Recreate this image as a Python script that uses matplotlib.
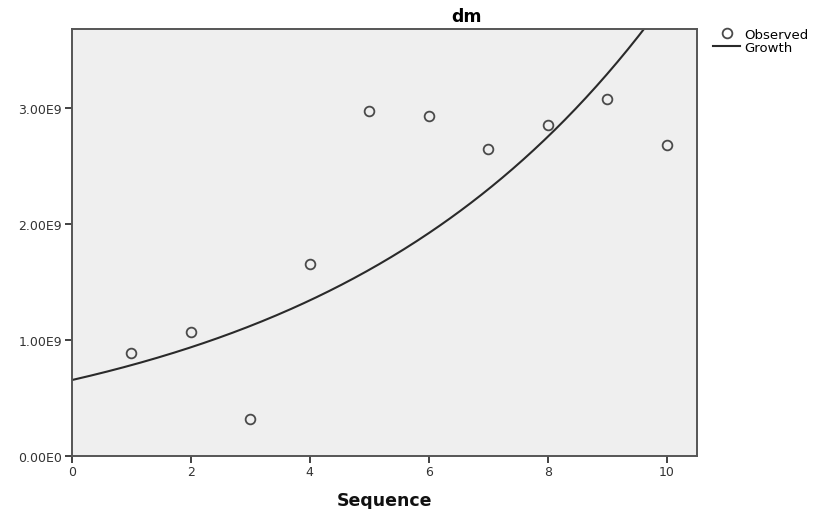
import numpy as np
import matplotlib.pyplot as plt

seq = [1, 2, 3, 4, 5, 6, 7, 8, 9, 10]
dm = [0.886e9, 1.065e9, 0.317e9, 1.654e9, 2.974e9, 2.931e9, 2.649e9, 2.856e9, 3.072e9, 2.681e9]

# growth model y = exp(b0 + b1 * x), coefficients estimated from the curve
growth_start = 0.652e9
growth_rate = 0.1800

yticks = [0, 1e9, 2e9, 3e9]
ytick_labels = ['0.00E0', '1.00E9', '2.00E9', '3.00E9']
xticks = [0, 2, 4, 6, 8, 10]

plt.rcParams['font.family'] = ['DejaVu Sans']

fig = plt.figure(figsize=(8.2, 5.1), dpi=100)
ax = fig.add_axes([0.0874, 0.1045, 0.763, 0.8367])
ax.set_facecolor('#efefef')

xs = np.linspace(0, 10.5, 300)
ax.plot(xs, growth_start * np.exp(growth_rate * xs), color='#2a2a2a', lw=1.5, label='Growth')
ax.plot(seq, dm, 'o', ms=7, mfc='none', mec='#4a4a4a', mew=1.3, label='Observed')

ax.set_xlim(0, 10.51)
ax.set_ylim(0, 3.68e9)
ax.set_xticks(xticks)
ax.set_yticks(yticks)
ax.set_yticklabels(ytick_labels)
ax.tick_params(axis='both', direction='out', length=5, width=1.3, color='#333333',
               labelsize=9, labelcolor='#333333', pad=2)
for s in ax.spines.values():
    s.set_color('#555555')
    s.set_linewidth(1.4)

ax.set_xlabel('Sequence', fontsize=12.5, fontweight='bold', color='#111111', labelpad=9)
fig.text(0.569, 0.966, 'dm', ha='center', va='center', fontsize=12.5, fontweight='bold')

h, l = ax.get_legend_handles_labels()
leg = fig.legend(h[::-1], l[::-1], loc='upper left', bbox_to_anchor=(0.862, 0.957),
                 frameon=False, fontsize=9.5, handlelength=2.0, handletextpad=0.3,
                 labelspacing=0.0, borderpad=0)

fig.savefig('out.png', dpi=100)
